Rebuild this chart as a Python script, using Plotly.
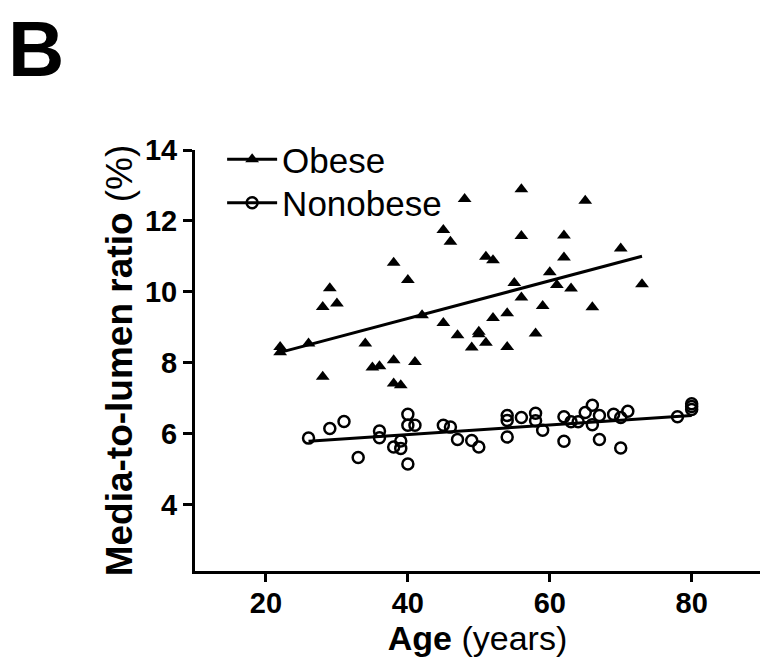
import plotly.graph_objects as go

# ---- Data ----
obese_age = [22, 22, 26, 28, 28, 29, 30, 34, 35, 36, 38, 40, 38, 41, 38, 39, 42,
             45, 46, 45, 47, 48, 56, 65, 56, 62, 70, 51, 52, 62, 60, 55, 61, 63,
             73, 56, 59, 66, 54, 52, 50, 50, 51, 49, 54, 58]
obese_ratio = [8.44, 8.29, 8.54, 7.60, 9.57, 10.10, 9.67, 8.54, 7.86, 7.90, 10.82,
               10.33, 8.07, 8.02, 7.41, 7.36, 9.34, 11.74, 11.41, 9.12, 8.77, 12.62,
               12.89, 12.57, 11.57, 11.59, 11.22, 10.99, 10.89, 10.97, 10.55, 10.25,
               10.19, 10.09, 10.21, 9.84, 9.60, 9.56, 9.39, 9.26, 8.87, 8.80, 8.56,
               8.43, 8.44, 8.82]

nonobese_age = [26, 29, 31, 33, 36, 36, 38, 39, 39, 40, 40, 41, 40, 45, 46, 47, 49,
                50, 54, 54, 54, 56, 58, 58, 59, 62, 62, 63, 64, 65, 66, 66, 67, 67,
                69, 70, 71, 70, 78, 80, 80, 80]
nonobese_ratio = [5.87, 6.14, 6.34, 5.32, 6.07, 5.88, 5.62, 5.79, 5.58, 6.54, 6.23,
                  6.23, 5.14, 6.23, 6.18, 5.83, 5.80, 5.62, 6.51, 6.37, 5.90, 6.45,
                  6.57, 6.36, 6.09, 6.47, 5.78, 6.33, 6.33, 6.59, 6.80, 6.25, 6.51,
                  5.83, 6.54, 6.45, 6.63, 5.59, 6.47, 6.84, 6.76, 6.68]

# regression lines (end points)
obese_fit_age = [22, 73]
obese_fit_ratio = [8.29, 11.0]
nonobese_fit_age = [26, 80]
nonobese_fit_ratio = [5.78, 6.51]

x_ticks = [20, 40, 60, 80]
y_ticks = [4, 6, 8, 10, 12, 14]

FONT = "Liberation Sans, Arial, Helvetica, sans-serif"
BLACK = "#000000"

tri = dict(symbol="triangle-up", size=12, color=BLACK, line=dict(width=0))
circ = dict(symbol="circle-open", size=11, color=BLACK, line=dict(width=2.5, color=BLACK))

fig = go.Figure()

fig.add_trace(go.Scatter(x=obese_fit_age, y=obese_fit_ratio, mode="lines",
                         line=dict(color=BLACK, width=3), showlegend=False, hoverinfo="skip"))
fig.add_trace(go.Scatter(x=nonobese_fit_age, y=nonobese_fit_ratio, mode="lines",
                         line=dict(color=BLACK, width=3), showlegend=False, hoverinfo="skip"))
fig.add_trace(go.Scatter(x=obese_age, y=obese_ratio, mode="markers", marker=tri,
                         showlegend=False, name="Obese"))
fig.add_trace(go.Scatter(x=nonobese_age, y=nonobese_ratio, mode="markers", marker=circ,
                         showlegend=False, name="Nonobese"))

# legend entries (line + marker)
fig.add_trace(go.Scatter(x=[None], y=[None], mode="lines+markers", name="Obese",
                         marker=tri, line=dict(color=BLACK, width=3), legend="legend"))
fig.add_trace(go.Scatter(x=[None], y=[None], mode="lines+markers", name="Nonobese",
                         marker=circ, line=dict(color=BLACK, width=3), legend="legend2"))

leg_common = dict(xanchor="left", yanchor="middle",
                  font=dict(size=35, family=FONT, color=BLACK),
                  bgcolor="rgba(0,0,0,0)", itemwidth=50)

fig.update_layout(
    width=760, height=671,
    margin=dict(l=195, r=0, t=150, b=100),
    plot_bgcolor="white", paper_bgcolor="white",
    font=dict(family=FONT, color=BLACK),
    legend=dict(x=0.048, y=0.9774, **leg_common),
    legend2=dict(x=0.048, y=0.874, **leg_common),
    annotations=[dict(text="<b>B</b>", xref="paper", yref="paper",
                      x=-0.335, y=1.24, xanchor="left", yanchor="middle",
                      showarrow=False, font=dict(size=78, family=FONT, color=BLACK))],
)

fig.update_xaxes(range=[10, 89.63], tickvals=x_ticks, ticks="outside", ticklen=8, tickwidth=2.5,
                 tickcolor=BLACK, showline=True, linewidth=3, linecolor=BLACK,
                 showgrid=False, zeroline=False, ticklabelstandoff=-4,
                 tickfont=dict(size=29, family=FONT, weight="bold"),
                 title=dict(text="<b>Age</b> (years)", font=dict(size=34, family=FONT), standoff=8))
fig.update_yaxes(range=[2.12, 14], tickvals=y_ticks, ticks="outside", ticklen=9, tickwidth=2.5,
                 tickcolor=BLACK, showline=True, linewidth=3, linecolor=BLACK,
                 showgrid=False, zeroline=False,
                 tickfont=dict(size=29, family=FONT, weight="bold"),
                 title=dict(text="<b>Media-to-lumen ratio</b> (%)", font=dict(size=37, family=FONT),
                            standoff=1))

fig.write_html("out.html")
